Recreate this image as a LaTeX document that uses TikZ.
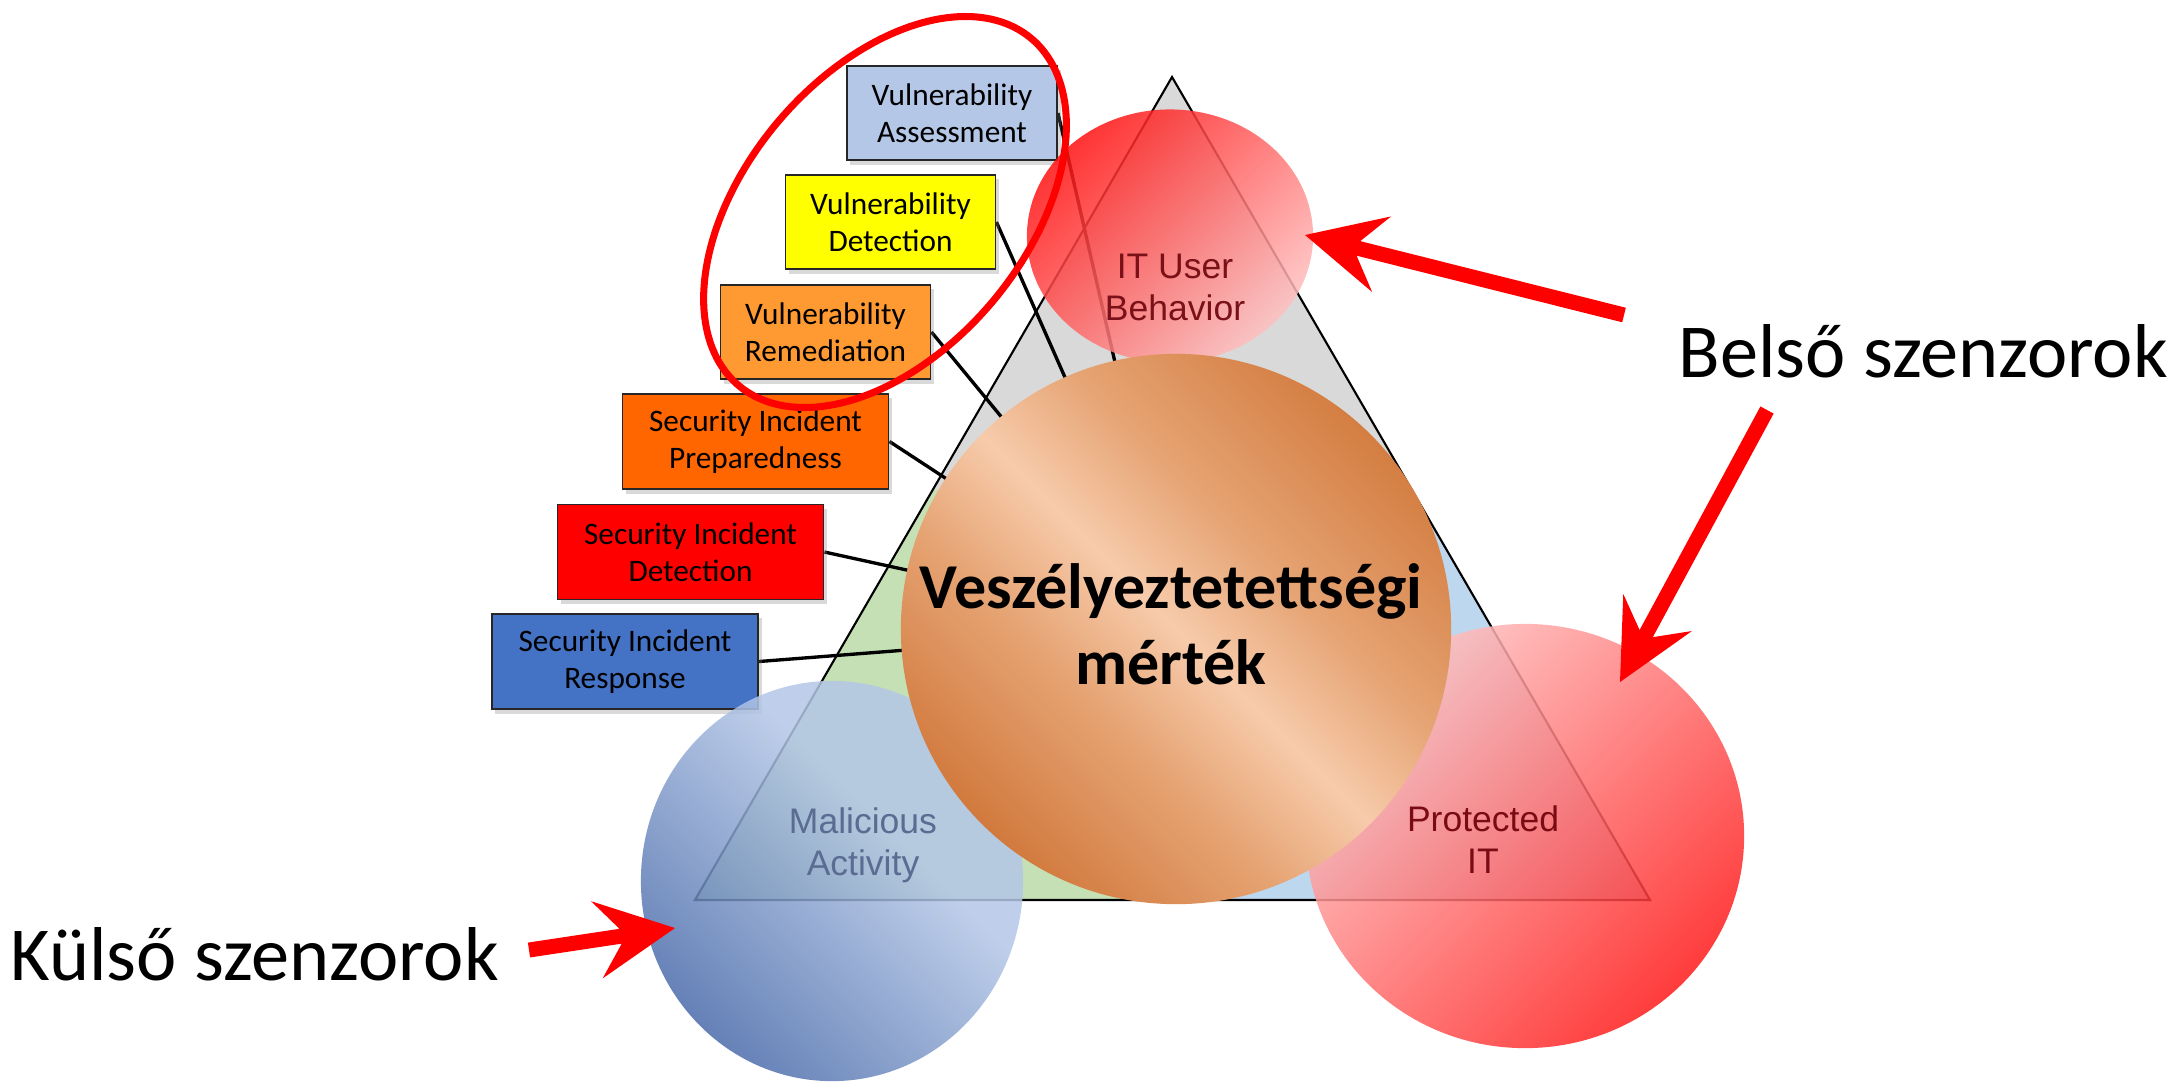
\documentclass[tikz,border=0pt]{standalone}
\usepackage{fontspec}
\setmainfont{Carlito}
\newfontfamily\arialfont{Liberation Sans}
\usetikzlibrary{calc,shapes.geometric,shadows}

\definecolor{trigray}{HTML}{D9D9D9}
\definecolor{trigreen}{HTML}{C5E0B4}
\definecolor{triblue}{HTML}{BDD7EE}
\definecolor{vaColor}{HTML}{B4C7E7}
\definecolor{vdColor}{HTML}{FFFF00}
\definecolor{vrColor}{HTML}{FF9A33}
\definecolor{spColor}{HTML}{FF6600}
\definecolor{sdColor}{HTML}{FF0000}
\definecolor{srColor}{HTML}{4472C4}
\definecolor{arrowred}{HTML}{FF0000}
\definecolor{itLabel}{HTML}{7A1018}
\definecolor{maLabel}{HTML}{5B6C92}
\definecolor{piLabel}{HTML}{7A0A14}
\definecolor{itA}{HTML}{FF1010}
\definecolor{itB}{HTML}{FFC0C0}
\definecolor{maA}{HTML}{4A6BAA}
\definecolor{maB}{HTML}{B4C7E7}
\definecolor{piA}{HTML}{FFC4C4}
\definecolor{piB}{HTML}{FF1A1A}
\definecolor{orD}{HTML}{D27A3E}
\definecolor{orM}{HTML}{E6A474}
\definecolor{orL}{HTML}{F7CBAB}
\definecolor{orE}{HTML}{D47E42}

\pgfdeclarehorizontalshading{itshade}{100bp}{color(0bp)=(itA); color(25bp)=(itA); color(75bp)=(itB); color(100bp)=(itB)}
\pgfdeclarehorizontalshading{mashade}{100bp}{color(0bp)=(maA); color(25bp)=(maA); color(60bp)=(maB); color(100bp)=(maB)}
\pgfdeclarehorizontalshading{pishade}{100bp}{color(0bp)=(piA); color(25bp)=(piA); color(75bp)=(piB); color(100bp)=(piB)}
\pgfdeclarehorizontalshading{coreshade}{100bp}{color(0bp)=(orD); color(25bp)=(orD); color(40bp)=(orM); color(50bp)=(orL); color(60bp)=(orM); color(75bp)=(orE); color(100bp)=(orE)}

\pgfdeclarelayer{back}
\pgfdeclarelayer{mid}
\pgfsetlayers{back,mid,main}

\newcommand{\redarrow}[3]{%
  \coordinate (#3n) at ($(#2)!0.55cm!(#1)$);
  \coordinate (#3b) at ($(#2)!0.79cm!(#1)$);
  \fill[arrowred] ($(#1)!0.075cm!-90:(#2)$) -- ($(#3n)!0.075cm!90:(#1)$) -- ($(#3b)!0.39cm!90:(#1)$) -- (#2) -- ($(#3b)!0.39cm!-90:(#1)$) -- ($(#3n)!0.075cm!-90:(#1)$) -- ($(#1)!0.075cm!90:(#2)$) -- cycle;}

\tikzset{
  vbox/.style={draw=black!85, line width=0.5pt, minimum width=2.1cm, minimum height=0.94cm, inner sep=0pt, align=center,
    font=\fontsize{8.9}{10.6}\selectfont, drop shadow={shadow xshift=0.035cm, shadow yshift=-0.045cm, opacity=0.3}},
  sbox/.style={vbox, minimum width=2.66cm, minimum height=0.95cm},
  conn/.style={line width=0.95pt, black},
  lbl/.style={font=\arialfont\fontsize{10.1}{12}\selectfont, anchor=base, inner sep=0pt},
  coretxt/.style={font=\bfseries\fontsize{18.2}{22}\selectfont, anchor=base, inner sep=0pt},
  sidetxt/.style={font=\fontsize{21.7}{26}\selectfont, anchor=base west, inner sep=0pt},
  blob/.style={ellipse, shade, inner sep=0pt},
  ring/.style={arrowred, line width=2pt, line join=round}
}

\begin{document}
\begin{tikzpicture}[x=0.01cm, y=-0.01cm]
\useasboundingbox (0,0) rectangle (2180,1081);

% triangle
\coordinate (ta) at (1172,77);
\coordinate (tb) at (695,900);
\coordinate (tc) at (1650,900);
\coordinate (tg) at (1172.3,625.7);
\coordinate (mab) at ($(ta)!0.5!(tb)$);
\coordinate (mac) at ($(ta)!0.5!(tc)$);
\coordinate (mbc) at ($(tb)!0.5!(tc)$);

\begin{pgfonlayer}{back}
\filldraw[trigray, line width=0.3pt] (ta) -- (mac) -- (tg) -- (mab) -- cycle;
\filldraw[trigreen, line width=0.3pt] (tb) -- (mab) -- (tg) -- (mbc) -- cycle;
\filldraw[triblue, line width=0.3pt] (tc) -- (mbc) -- (tg) -- (mac) -- cycle;
\draw[line width=0.6pt, line join=miter] (ta) -- (tb) -- (tc) -- cycle;
\end{pgfonlayer}

% boxes
\node[vbox, fill=vaColor] (va) at (952,113) {Vulnerability\\Assessment};
\node[vbox, fill=vdColor] (vd) at (890.5,222) {Vulnerability\\Detection};
\node[vbox, fill=vrColor] (vr) at (825.5,332) {Vulnerability\\Remediation};
\node[sbox, fill=spColor] (sp) at (755.5,441.5) {Security Incident\\Preparedness};
\node[sbox, fill=sdColor] (sd) at (690.5,552) {Security Incident\\Detection};
\node[sbox, fill=srColor] (sr) at (625,661.5) {Security Incident\\Response};

% sensor ellipses
\node[blob, shading=itshade, shading angle=-45, fill opacity=0.85, minimum width=2.86cm, minimum height=2.53cm] (itub) at (1170,236) {};
\node[blob, shading=mashade, shading angle=45, fill opacity=0.85, minimum width=3.82cm, minimum height=4.0cm] (mact) at (832,881) {};
\node[blob, shading=pishade, shading angle=-45, fill opacity=0.85, minimum width=4.38cm, minimum height=4.24cm] (prit) at (1525,836) {};

% core circle
\node[circle, shade, shading=coreshade, shading angle=45, minimum size=5.5cm, inner sep=0pt] (core) at (1176,629) {};

% connectors
\begin{pgfonlayer}{mid}
\foreach \b in {va,vd,vr,sp,sd,sr} \draw[conn] (\b.east) -- (core.center);
\end{pgfonlayer}

% texts
\node[coretxt] (core1) at (1171,608) {Veszélyeztetettségi};
\node[coretxt] (core2) at (1171,684) {mérték};
\node[lbl, text=itLabel] (itl1) at (1175,278) {IT User};
\node[lbl, text=itLabel] (itl2) at (1175,320) {Behavior};
\node[lbl, text=maLabel] (mal1) at (863,833) {Malicious};
\node[lbl, text=maLabel] (mal2) at (863,875) {Activity};
\node[lbl, text=piLabel] (pil1) at (1483,831) {Protected};
\node[lbl, text=piLabel] (pil2) at (1483,873) {IT};

\node[sidetxt] (belso) at (1678,377) {Belső szenzorok};
\node[sidetxt] (kulso) at (10,980) {Külső szenzorok};

% red outline ellipse (centre 885,212; semi-axes 227 x 140; tilted 49.8 deg)
\draw[ring] plot[domain=0:360, samples=181]
  ({885 + 227*cos(\x)*cos(49.8) - 140*sin(\x)*sin(49.8)},
   {212 - 227*cos(\x)*sin(49.8) - 140*sin(\x)*cos(49.8)}) -- cycle;

% arrows
\coordinate (a1t) at (1624,315);
\coordinate (a1h) at (1305,235);
\coordinate (a2t) at (1767,410);
\coordinate (a2h) at (1620,682);
\coordinate (a3t) at (529,950);
\coordinate (a3h) at (675,928);
\redarrow{a1t}{a1h}{aa}
\redarrow{a2t}{a2h}{ab}
\redarrow{a3t}{a3h}{ac}
\end{tikzpicture}
\end{document}
